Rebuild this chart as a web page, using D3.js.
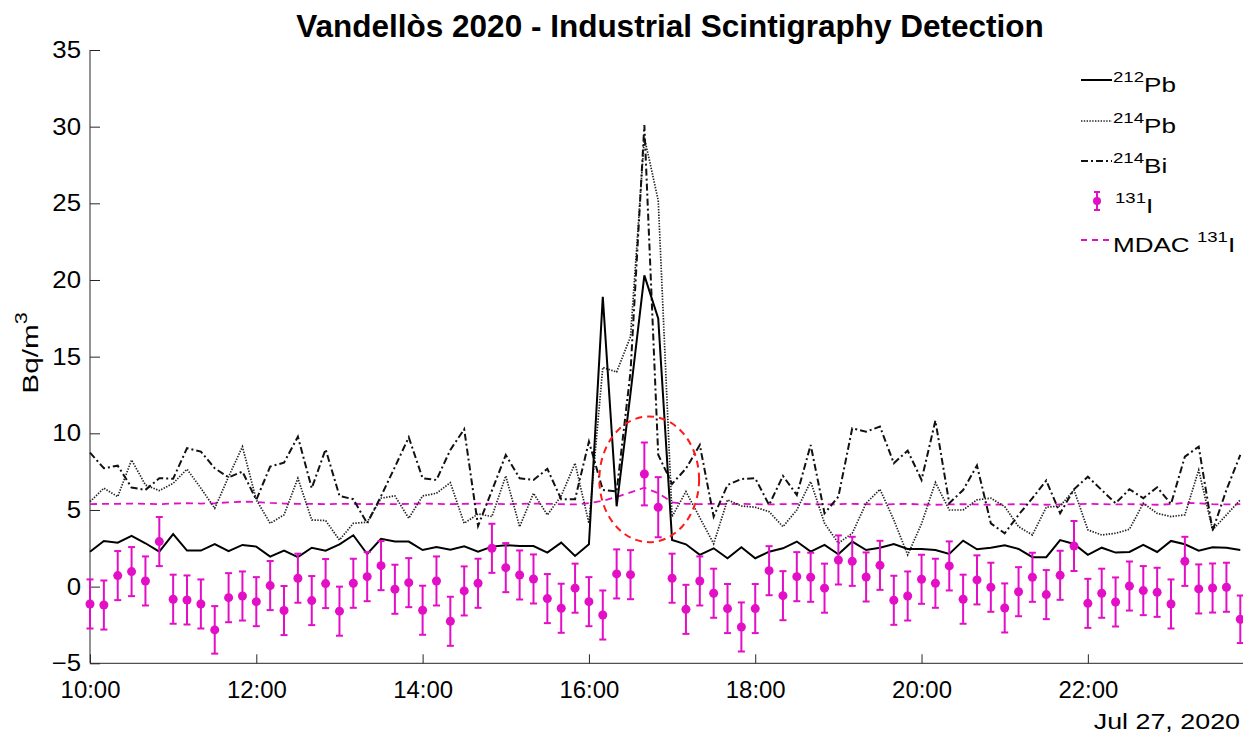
<!DOCTYPE html>
<html>
<head>
<meta charset="utf-8">
<script src="https://cdn.jsdelivr.net/npm/d3@7"></script>
<style>
  body { margin: 0; background: #fff; }
  svg { display: block; }
  text { font-family: "Liberation Sans", Arial, Helvetica, sans-serif; fill: #000; }
</style>
</head>
<body>
<svg id="chart" width="1243" height="736"></svg>
<script>
// Sampling grid: one value every 10 minutes from 10:00 on 27 July 2020
const startTime = new Date(2020, 6, 27, 10, 0);
const stepMinutes = 10;

// 212Pb activity concentration (Bq/m3)
const pb212 = [
  2.28, 2.98, 2.87, 3.31, 2.83, 2.28, 3.42, 2.35, 2.35, 2.78,
  2.31, 2.72, 2.61, 1.96, 2.35, 1.92, 2.54, 2.35, 2.76, 3.35,
  2.13, 3.12, 2.94, 2.94, 2.39, 2.59, 2.41, 2.63, 2.28, 2.61,
  2.70, 2.65, 2.65, 2.22, 2.87, 2.00, 2.76, 18.9, 5.24, 12.6,
  20.3, 17.5, 3.04, 2.76, 2.07, 2.50, 1.85, 2.57, 1.85, 2.28,
  2.50, 2.94, 2.28, 2.72, 2.11, 2.94, 2.39, 2.54, 2.78, 2.46,
  2.46, 2.39, 2.13, 3.00, 2.44, 2.54, 2.70, 2.46, 1.92, 1.92,
  3.04, 2.78, 2.07, 2.54, 2.22, 2.26, 2.72, 2.26, 2.98, 2.76,
  2.35, 2.57, 2.54, 2.39
];

// 214Pb activity concentration (Bq/m3)
const pb214 = [
  5.54, 6.42, 5.87, 8.26, 6.63, 6.26, 6.74, 7.66, 6.42, 5.11,
  7.17, 9.13, 5.66, 4.13, 4.68, 7.07, 4.35, 4.31, 3.04, 4.13,
  4.20, 5.77, 5.92, 4.46, 5.92, 6.09, 6.78, 4.13, 4.74, 4.57,
  7.22, 3.91, 6.09, 4.68, 5.92, 8.05, 4.13, 14.3, 14.0, 16.3,
  29.3, 25.2, 4.57, 6.20, 4.50, 2.80, 5.66, 5.26, 5.18, 4.89,
  3.91, 5.00, 6.85, 4.13, 2.83, 3.48, 5.44, 6.35, 4.35, 2.07,
  4.10, 6.80, 5.00, 5.00, 5.66, 5.77, 5.22, 3.91, 3.37, 5.18,
  5.26, 6.31, 3.70, 3.37, 3.48, 3.74, 5.44, 4.78, 4.57, 4.68,
  7.61, 3.70, 4.68, 5.66
];

// 214Bi activity concentration (Bq/m3)
const bi214 = [
  8.74, 7.72, 7.89, 6.46, 6.31, 7.07, 7.04, 9.03, 8.81, 7.72,
  7.13, 7.50, 5.66, 7.83, 8.09, 9.78, 6.42, 8.96, 5.92, 5.70,
  4.13, 5.90, 7.80, 9.74, 7.07, 6.96, 8.92, 10.27, 3.96, 6.26,
  8.59, 7.07, 6.96, 7.68, 5.70, 5.70, 9.46, 6.31, 6.20, 14.0,
  30.1, 8.60, 6.70, 7.70, 9.24, 4.57, 6.63, 7.02, 7.07, 5.33,
  7.22, 5.98, 9.24, 4.78, 5.87, 10.33, 10.11, 10.44, 8.05, 8.87,
  6.96, 10.83, 5.44, 6.30, 7.90, 4.13, 3.48, 4.68, 5.77, 6.92,
  4.78, 6.35, 7.17, 6.30, 5.44, 6.35, 5.77, 6.48, 5.39, 8.48,
  9.13, 3.65, 6.31, 8.59
];

// 131I activity concentration (Bq/m3) and its uncertainty
const i131 = [
  -1.13, -1.20, 0.72, 0.98, 0.37, 2.94, -0.82, -0.87, -1.13, -2.82,
  -0.72, -0.61, -0.98, 0.07, -1.56, 0.55, -0.91, 0.20, -1.60, 0.22,
  0.65, 1.37, -0.17, 0.26, -1.54, 0.37, -2.26, -0.28, 0.22, 2.50,
  1.24, 0.76, 0.50, -0.78, -1.41, -0.10, -0.98, -1.85, 0.83, 0.78,
  7.35, 5.18, 0.55, -1.48, 0.37, -0.43, -1.43, -2.63, -1.43, 1.04,
  -0.59, 0.65, 0.61, -0.10, 1.74, 1.65, 0.63, 1.39, -0.89, -0.61,
  0.48, 0.22, 1.35, -0.82, 0.44, -0.04, -1.39, -0.33, 0.61, -0.52,
  0.74, 2.65, -1.09, -0.43, -1.00, 0.04, -0.26, -0.37, -1.13, 1.65,
  -0.15, -0.09, -0.04, -2.13
];
const i131Err = [
  1.60, 1.60, 1.60, 1.60, 1.60, 1.60, 1.60, 1.60, 1.60, 1.55,
  1.60, 1.60, 1.60, 1.60, 1.60, 1.60, 1.60, 1.60, 1.60, 1.60,
  1.60, 1.60, 1.60, 1.60, 1.60, 1.60, 1.60, 1.60, 1.60, 1.60,
  1.60, 1.60, 1.60, 1.60, 1.60, 1.60, 1.60, 1.60, 1.60, 1.60,
  2.05, 1.96, 1.60, 1.60, 1.60, 1.60, 1.60, 1.60, 1.60, 1.60,
  1.60, 1.60, 1.60, 1.60, 1.60, 1.60, 1.60, 1.60, 1.60, 1.60,
  1.60, 1.60, 1.60, 1.60, 1.60, 1.60, 1.60, 1.60, 1.60, 1.60,
  1.60, 1.63, 1.60, 1.60, 1.60, 1.60, 1.60, 1.60, 1.60, 1.60,
  1.60, 1.60, 1.60, 1.55
];

// Minimum detectable activity concentration for 131I (Bq/m3)
const mdac = [
  5.38, 5.40, 5.40, 5.42, 5.40, 5.38, 5.42, 5.44, 5.42, 5.44,
  5.50, 5.54, 5.52, 5.46, 5.42, 5.40, 5.40, 5.38, 5.40, 5.40,
  5.38, 5.40, 5.38, 5.40, 5.42, 5.40, 5.38, 5.40, 5.42, 5.40,
  5.38, 5.40, 5.42, 5.40, 5.38, 5.36, 5.45, 5.60, 5.85, 6.15,
  6.45, 6.10, 5.50, 5.40, 5.38, 5.40, 5.38, 5.40, 5.38, 5.36,
  5.38, 5.40, 5.38, 5.36, 5.38, 5.40, 5.38, 5.36, 5.38, 5.40,
  5.36, 5.34, 5.36, 5.38, 5.36, 5.34, 5.36, 5.38, 5.36, 5.34,
  5.36, 5.38, 5.40, 5.38, 5.36, 5.38, 5.36, 5.34, 5.38, 5.46,
  5.44, 5.38, 5.36, 5.38
];

// Axis ticks
const xTickLabels = ["10:00", "12:00", "14:00", "16:00", "18:00", "20:00", "22:00"];
const yTickValues = [-5, 0, 5, 10, 15, 20, 25, 30, 35];

// Highlighted detection window (centre time, value, half-width in minutes, half-height in Bq/m3)
const highlight = { time: "16:43:30", value: 7.0, halfMinutes: 36, halfValue: 4.1 };

const svg = d3.select("#chart");
const plotLeft = 90, plotTop = 50, plotBottom = 663.3, plotRight = 1240.3;
const magenta = "#e30fc6";
const axisColor = "#262626";
const fontFamily = '"Liberation Sans", Arial, Helvetica, sans-serif';

// Widen a text element horizontally by a factor (glyph shapes are wider than the font size suggests)
function widen(node, factor) {
  const w = node.getComputedTextLength();
  node.setAttribute("textLength", w * factor);
  node.setAttribute("lengthAdjust", "spacingAndGlyphs");
}

const times = pb212.map((_, i) => d3.timeMinute.offset(startTime, i * stepMinutes));
const parseHM = d3.timeParse("%Y-%m-%d %H:%M");
const parseHMS = d3.timeParse("%Y-%m-%d %H:%M:%S");

const x = d3.scaleTime()
  .domain([startTime, times[times.length - 1]])
  .range([plotLeft, plotRight]);
const y = d3.scaleLinear().domain([-5, 35]).range([plotBottom, plotTop]);

// Axes (ticks point into the plot)
const xAxis = d3.axisBottom(x)
  .tickValues(xTickLabels.map(t => parseHM("2020-07-27 " + t)))
  .tickFormat(d3.timeFormat("%H:%M"))
  .tickSizeInner(-9).tickSizeOuter(0).tickPadding(18);
const gx = svg.append("g").attr("transform", `translate(0,${plotBottom})`).call(xAxis);
gx.select(".domain").remove();
gx.selectAll(".tick line").attr("stroke", axisColor);
gx.selectAll(".tick text").attr("font-size", 23).attr("fill", "#000")
  .style("font-family", fontFamily)
  .each(function () { widen(this, 1.04); });
svg.append("line").attr("x1", plotLeft).attr("x2", 1243).attr("y1", plotBottom).attr("y2", plotBottom)
  .attr("stroke", axisColor).attr("stroke-width", 1);

const yAxis = d3.axisLeft(y).tickValues(yTickValues)
  .tickSizeInner(-10).tickSizeOuter(0).tickPadding(9);
const gy = svg.append("g").attr("transform", `translate(${plotLeft},0)`).call(yAxis);
gy.select(".domain").remove();
gy.selectAll(".tick line").attr("stroke", axisColor);
gy.selectAll(".tick text").attr("font-size", 23).attr("fill", "#000")
  .style("font-family", fontFamily)
  .each(function () { widen(this, 1.12); });
svg.append("line").attr("x1", plotLeft).attr("x2", plotLeft).attr("y1", plotTop).attr("y2", plotBottom)
  .attr("stroke", axisColor).attr("stroke-width", 1);

// Date stamp under the time axis
const dateStamp = svg.append("text").attr("x", 1240).attr("y", 729).attr("text-anchor", "end")
  .attr("font-size", 22).text("Jul 27, 2020");
widen(dateStamp.node(), 1.22);

// Title and y label
svg.append("text").attr("x", 670).attr("y", 37).attr("text-anchor", "middle")
  .attr("font-size", 31.5).attr("font-weight", "bold")
  .text("Vandellòs 2020 - Industrial Scintigraphy Detection");

const yl = svg.append("text").attr("transform", "translate(38,353) rotate(-90)")
  .attr("text-anchor", "middle").attr("font-size", 22);
yl.append("tspan").text("Bq/m");
yl.append("tspan").attr("font-size", 16).attr("dy", -11).text("3");
widen(yl.node(), 1.35);

// Series lines
const plot = svg.append("g");
const lineOf = vals => d3.line().x((d, i) => x(times[i])).y(d => y(d))(vals);

plot.append("path").attr("d", lineOf(mdac)).attr("fill", "none")
  .attr("stroke", magenta).attr("stroke-width", 1.8).attr("stroke-dasharray", "7,5");

plot.append("path").attr("d", lineOf(pb214)).attr("fill", "none")
  .attr("stroke", "#222").attr("stroke-width", 1.7).attr("stroke-dasharray", "1.4,1.4");
plot.append("path").attr("d", lineOf(bi214)).attr("fill", "none")
  .attr("stroke", "#111").attr("stroke-width", 2).attr("stroke-dasharray", "7,3,2,3");
plot.append("path").attr("d", lineOf(pb212)).attr("fill", "none")
  .attr("stroke", "#000").attr("stroke-width", 2);

// 131I points with error bars
const eb = plot.append("g").attr("stroke", magenta).attr("stroke-width", 2);
i131.forEach((v, i) => {
  const cx = x(times[i]);
  const lo = y(v - i131Err[i]), hi = y(v + i131Err[i]);
  eb.append("line").attr("x1", cx).attr("x2", cx).attr("y1", lo).attr("y2", hi);
  eb.append("line").attr("x1", cx - 3.5).attr("x2", cx + 3.5).attr("y1", lo).attr("y2", lo);
  eb.append("line").attr("x1", cx - 3.5).attr("x2", cx + 3.5).attr("y1", hi).attr("y2", hi);
});
plot.append("g").selectAll("circle").data(i131).join("circle")
  .attr("cx", (d, i) => x(times[i])).attr("cy", d => y(d)).attr("r", 4.5)
  .attr("fill", magenta);

// Dashed ellipse around the 131I detection
const hc = parseHMS("2020-07-27 " + highlight.time);
const ex = x(hc), ey = y(highlight.value);
const erx = x(d3.timeMinute.offset(hc, highlight.halfMinutes)) - ex;
const ery = y(highlight.value - highlight.halfValue) - ey;
plot.append("ellipse").attr("cx", ex).attr("cy", ey).attr("rx", erx).attr("ry", ery)
  .attr("fill", "none").attr("stroke", "#ff1a1a").attr("stroke-width", 2)
  .attr("stroke-dasharray", "7,5");

// Legend
const legend = svg.append("g");
const legendRows = [
  { key: "pb212", sup: "212", label: "Pb", y: 80 },
  { key: "pb214", sup: "214", label: "Pb", y: 121 },
  { key: "bi214", sup: "214", label: "Bi", y: 161 },
  { key: "i131", sup: "131", label: "I", y: 201 },
  { key: "mdac", pre: "MDAC ", sup: "131", label: "I", y: 240 }
];
legendRows.forEach(r => {
  if (r.key === "pb212") {
    legend.append("line").attr("x1", 1081).attr("x2", 1112).attr("y1", r.y).attr("y2", r.y)
      .attr("stroke", "#000").attr("stroke-width", 2);
  } else if (r.key === "pb214") {
    legend.append("line").attr("x1", 1081).attr("x2", 1112).attr("y1", r.y).attr("y2", r.y)
      .attr("stroke", "#222").attr("stroke-width", 1.6).attr("stroke-dasharray", "1.4,1.4");
  } else if (r.key === "bi214") {
    legend.append("line").attr("x1", 1081).attr("x2", 1112).attr("y1", r.y).attr("y2", r.y)
      .attr("stroke", "#111").attr("stroke-width", 2).attr("stroke-dasharray", "7,3,2,3");
  } else if (r.key === "i131") {
    const g = legend.append("g").attr("stroke", magenta).attr("stroke-width", 2);
    g.append("line").attr("x1", 1097).attr("x2", 1097).attr("y1", r.y - 9).attr("y2", r.y + 9);
    g.append("line").attr("x1", 1094).attr("x2", 1100).attr("y1", r.y - 9).attr("y2", r.y - 9);
    g.append("line").attr("x1", 1094).attr("x2", 1100).attr("y1", r.y + 9).attr("y2", r.y + 9);
    legend.append("circle").attr("cx", 1097).attr("cy", r.y).attr("r", 4).attr("fill", magenta);
  } else {
    legend.append("line").attr("x1", 1081).attr("x2", 1112).attr("y1", r.y).attr("y2", r.y)
      .attr("stroke", magenta).attr("stroke-width", 1.8).attr("stroke-dasharray", "6,5");
  }
  const t = legend.append("text").attr("x", r.key === "i131" ? 1115 : 1113)
    .attr("y", r.y + 12).attr("font-size", 21);
  if (r.pre) t.append("tspan").text(r.pre);
  t.append("tspan").attr("font-size", 15).attr("dy", -10).text(r.sup);
  t.append("tspan").attr("dy", 10).text(r.label);
  widen(t.node(), 1.24);
});
</script>
</body>
</html>
